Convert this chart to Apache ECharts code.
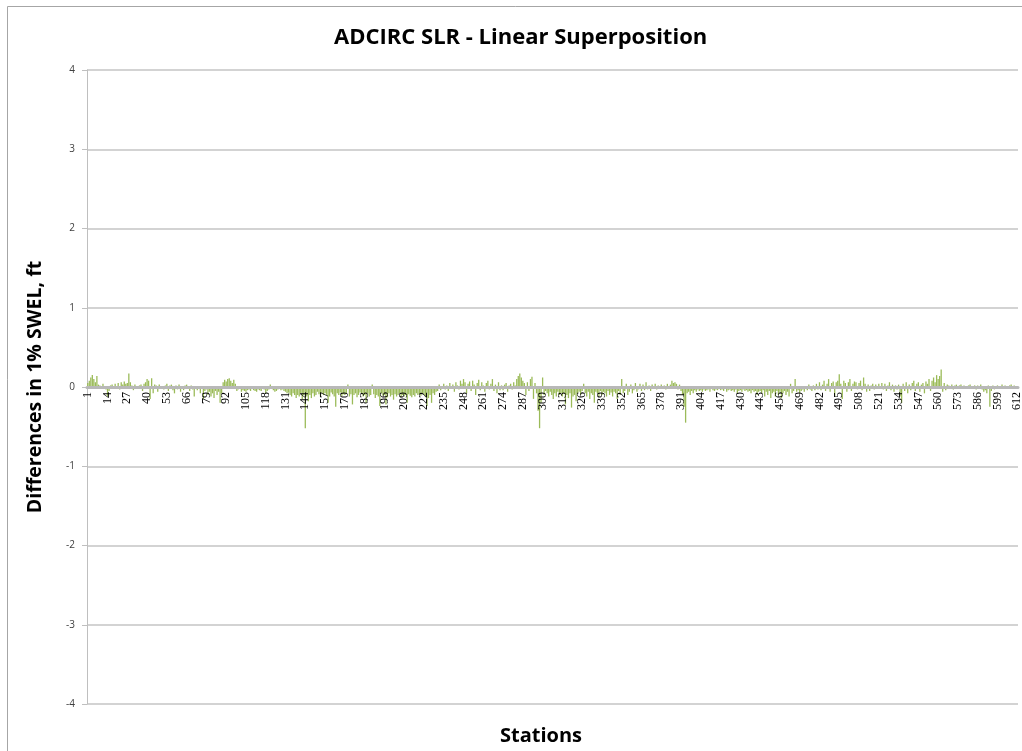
<!DOCTYPE html>
<html>
<head>
<meta charset="utf-8">
<script src="https://cdn.jsdelivr.net/npm/echarts@6/dist/echarts.min.js"></script>
<style>html,body{margin:0;padding:0;background:#ffffff;}#c{width:1022px;height:751px;}</style>
</head>
<body>
<div id="c"></div>
<script>
// Stations 1-156
var diffA = [
0.05,0.08,0.12,0.15,0.10,0.06,0.14,0.03,0.02,-0.02,0.04,0.01,-0.03,
-0.12,-0.05,0.02,0.03,-0.02,0.04,0.01,0.05,-0.03,0.06,0.03,0.07,0.04,
0.05,0.17,0.06,0.02,-0.04,0.03,0.01,-0.02,0.02,0.03,-0.05,0.04,0.06,
0.1,0.08,-0.15,0.11,-0.08,0.03,0.02,-0.06,0.03,-0.02,0.01,-0.03,0.02,
0.04,-0.05,0.02,0.03,-0.04,-0.08,0.02,-0.03,0.03,-0.06,0.01,-0.04,0.02,
0.03,-0.02,-0.05,0.02,-0.03,-0.12,0.01,-0.04,-0.02,-0.08,0.01,-0.15,-0.05,
-0.03,-0.1,-0.06,-0.12,-0.08,-0.14,-0.05,-0.1,-0.06,-0.2,-0.08,0.06,0.09,
0.07,0.1,0.11,0.08,0.05,0.09,0.04,-0.05,-0.03,-0.02,-0.06,-0.04,-0.05,
-0.06,-0.04,-0.03,-0.05,-0.02,-0.04,-0.05,-0.06,-0.03,-0.04,-0.05,-0.02,-0.03,
-0.08,-0.05,-0.03,0.03,-0.02,-0.04,-0.06,-0.05,-0.03,-0.02,-0.04,-0.03,-0.05,
-0.06,-0.08,-0.07,-0.1,-0.12,-0.08,-0.1,-0.14,-0.1,-0.12,-0.08,-0.15,-0.1,
-0.52,-0.12,-0.18,-0.1,-0.14,-0.08,-0.12,-0.1,-0.06,-0.09,-0.12,-0.08,-0.1
];
// Stations 157-312
var diffB = [
-0.08,-0.1,-0.2,-0.12,-0.07,-0.09,-0.12,-0.25,-0.08,-0.1,-0.07,-0.12,-0.09,
-0.1,-0.08,0.03,-0.12,-0.09,-0.22,-0.1,-0.08,-0.13,-0.1,-0.07,-0.09,-0.12,
-0.1,-0.2,-0.08,-0.12,-0.1,0.03,-0.09,-0.14,-0.1,-0.12,-0.24,-0.08,-0.11,
-0.1,-0.22,-0.13,-0.08,-0.12,-0.1,-0.16,-0.09,-0.12,-0.1,-0.08,-0.13,-0.1,
-0.12,-0.1,-0.2,-0.09,-0.11,-0.13,-0.1,-0.12,-0.08,-0.1,-0.09,-0.11,-0.08,
-0.1,-0.12,-0.24,-0.14,-0.1,-0.2,-0.08,-0.1,-0.06,-0.05,0.03,-0.04,-0.02,
0.04,-0.03,0.02,-0.05,0.05,-0.02,0.03,-0.06,0.06,0.02,-0.03,0.08,0.04,
0.1,0.06,-0.08,0.04,0.07,-0.05,0.08,0.03,-0.1,0.05,0.09,-0.04,0.06,
0.02,-0.06,0.05,0.08,-0.03,0.04,0.1,-0.05,0.03,-0.08,0.06,-0.04,0.02,
-0.04,0.03,0.05,-0.06,0.02,0.04,-0.03,0.06,0.02,0.1,0.14,0.17,0.12,
0.08,0.05,-0.1,0.06,-0.05,0.1,0.13,-0.15,0.05,-0.08,-0.3,-0.52,-0.2,
0.12,-0.1,-0.05,-0.08,-0.12,-0.06,-0.1,-0.15,-0.08,-0.12,-0.06,-0.1,-0.08
];
// Stations 313-468
var diffC = [
-0.12,-0.08,-0.22,-0.1,-0.14,-0.08,-0.26,-0.12,-0.1,-0.18,-0.08,-0.06,-0.1,
-0.05,0.04,-0.08,-0.12,-0.06,-0.15,-0.08,-0.1,-0.2,-0.06,-0.08,-0.12,-0.05,
-0.1,-0.06,-0.08,-0.12,-0.05,-0.1,-0.07,-0.12,-0.06,-0.08,-0.15,-0.05,-0.1,
0.1,-0.08,-0.05,0.04,-0.1,-0.06,0.03,-0.08,-0.04,0.05,-0.06,-0.03,0.04,
-0.05,0.03,-0.04,0.06,-0.03,0.02,-0.05,0.03,-0.02,0.04,-0.03,0.02,-0.02,
0.03,-0.02,0.02,-0.03,0.04,-0.02,0.03,0.08,0.05,0.06,0.04,-0.03,0.03,
-0.05,-0.1,-0.25,-0.45,-0.08,-0.06,-0.1,-0.05,-0.08,-0.04,-0.06,-0.03,-0.05,
-0.04,-0.06,-0.03,-0.05,-0.04,-0.03,-0.06,-0.02,-0.04,-0.05,-0.03,-0.04,-0.02,
-0.04,-0.03,-0.05,-0.02,-0.06,-0.04,-0.03,-0.05,-0.04,-0.06,-0.03,-0.08,-0.05,
-0.04,-0.06,-0.03,-0.05,-0.04,-0.06,-0.05,-0.08,-0.04,-0.06,-0.05,-0.1,-0.06,
-0.05,-0.08,-0.04,-0.12,-0.06,-0.1,-0.05,-0.14,-0.08,-0.06,-0.12,-0.05,-0.1,
-0.06,-0.14,-0.08,-0.05,-0.1,-0.06,-0.12,0.04,-0.08,-0.05,0.1,-0.06,-0.04
];
// Stations 469-612
var diffD = [
-0.08,-0.05,-0.03,-0.06,-0.02,-0.04,0.03,-0.03,-0.05,0.02,-0.04,0.04,-0.03,
0.06,-0.04,0.03,0.08,-0.05,0.04,0.1,-0.06,0.05,0.07,-0.12,0.06,0.08,
0.16,0.04,-0.15,0.08,0.05,-0.06,0.06,0.1,-0.05,0.04,0.07,0.06,-0.03,
0.05,0.08,-0.04,0.12,0.04,-0.06,0.03,-0.05,0.02,0.04,-0.03,0.03,-0.02,
0.04,-0.02,0.05,-0.03,0.04,-0.05,0.02,0.06,-0.04,0.03,-0.06,0.02,-0.03,
0.03,-0.12,-0.2,0.04,-0.05,0.06,-0.08,0.03,-0.04,0.05,0.08,-0.05,0.04,
0.06,-0.06,0.03,0.05,-0.08,0.07,0.04,0.1,-0.05,0.08,0.12,0.06,0.15,
0.1,0.14,0.22,-0.06,0.05,-0.04,0.03,0.02,-0.02,0.03,-0.03,0.02,0.03,
-0.02,0.02,0.03,-0.02,0.02,0.01,-0.02,0.02,0.03,-0.02,0.01,0.02,-0.03,
0.02,-0.02,0.03,-0.03,-0.06,-0.04,-0.08,0.02,-0.25,-0.05,0.02,-0.03,0.01,
0.02,-0.02,0.01,0.03,-0.02,0.02,0.01,-0.01,0.02,0.03,0.01,0.02,-0.02,
0.01
];
var yTicks = [-4, -3, -2, -1, 0, 1, 2, 3, 4];
var titleText = 'ADCIRC SLR - Linear Superposition';
var yName = 'Differences in 1% SWEL, ft';
var xName = 'Stations';

var values = diffA.concat(diffB, diffC, diffD);
var stations = [];
for (var i = 1; i <= values.length; i++) stations.push(String(i));

var chart = echarts.init(document.getElementById('c'), null, {renderer: 'canvas'});
var option = {
  animation: false,
  backgroundColor: '#ffffff',
  graphic: [{
    type: 'rect', shape: {x: 7.5, y: 6.5, width: 1030, height: 760},
    style: {fill: 'none', stroke: '#a6a6a6', lineWidth: 1}, silent: true
  }, {
    type: 'text', left: 500, top: 726,
    style: {text: xName, font: 'bold 20px "Open Sans"', fill: '#000'}, silent: true
  }],
  title: {
    text: titleText, left: 329, top: 22,
    textStyle: {fontFamily: 'Open Sans', fontWeight: 'bold', fontSize: 22, color: '#000'}
  },
  grid: {left: 87, right: 4, top: 70, bottom: 47, containLabel: false, outerBoundsMode: 'none'},
  xAxis: {
    type: 'category', data: stations, position: 'bottom', offset: 0, z: 10,
    axisLine: {onZero: false, lineStyle: {color: '#b8b8b8', width: 3}},
    axisTick: {show: false},
    axisLabel: {interval: 12, rotate: 90, fontFamily: 'Liberation Serif', fontSize: 12, color: '#000', margin: 5},
    splitLine: {show: false}
  },
  yAxis: {
    type: 'value', min: -4, max: 4, interval: 1,
    name: yName, nameLocation: 'middle', nameGap: 42, nameRotate: 90,
    nameTextStyle: {fontFamily: 'Open Sans', fontWeight: 'bold', fontSize: 19.5, color: '#000'},
    axisLine: {show: true, lineStyle: {color: '#bfbfbf', width: 1}},
    axisTick: {show: true, length: 5, lineStyle: {color: '#bfbfbf'}},
    axisLabel: {fontFamily: 'Open Sans', fontSize: 10, color: '#404040', margin: 12,
      formatter: function (v) { return yTicks.indexOf(v) >= 0 ? String(v) : ''; }},
    splitLine: {show: true, lineStyle: {color: '#c4c4c4', width: 1.5}}
  },
  series: [{
    type: 'bar', data: values, barCategoryGap: '15%', z: 2,
    itemStyle: {color: '#9bbb59'}
  }]
};
chart.setOption(option);
// Move the category axis (line + labels) to the zero of the value axis
var zeroY = chart.convertToPixel({yAxisIndex: 0}, 0);
var bottomY = chart.convertToPixel({yAxisIndex: 0}, -4);
chart.setOption({xAxis: {offset: zeroY - bottomY}});
</script>
</body>
</html>
